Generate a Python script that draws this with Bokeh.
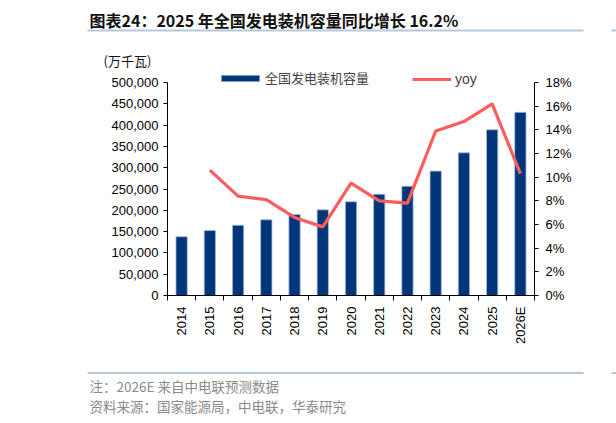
import math

from bokeh.plotting import figure
from bokeh.models import (Range1d, LinearAxis, FixedTicker, SingleIntervalTicker,
                          NumeralTickFormatter, PrintfTickFormatter, Legend, LegendItem)
from bokeh.layouts import column
from bokeh.core.properties import value
from bokeh.embed import file_html
from bokeh.resources import INLINE

# data
years = ["2014", "2015", "2016", "2017", "2018", "2019", "2020",
         "2021", "2022", "2023", "2024", "2025", "2026E"]
capacity = [138000, 152500, 165000, 177700, 190000, 201000, 220000,
            237700, 256400, 292000, 334900, 389000, 430000]   # 万千瓦
yoy = [10.6, 8.4, 8.1, 6.6, 5.8, 9.5, 8.0, 7.8, 13.9, 14.7, 16.2, 10.3]  # % from 2015

title_text = "图表24：2025 年全国发电装机容量同比增长 16.2%"
unit_text = "(万千瓦)"
bar_label = "全国发电装机容量"
line_label = "yoy"
note_text = "注：2026E 来自中电联预测数据"
source_text = "资料来源：国家能源局，中电联，华泰研究"

NAVY = "#02367a"
RED = "#ff5d5d"
RULE = "#b7c7db"
CJK = "Noto Sans CJK SC"
LAT = "Liberation Sans"
W = 616

CAP_MAX, PCT_MAX = 500000, 18
HEAD_H = 68
AXIS_PX = 213                  # px from 0 to the top tick
FRAME_PX = 295 - HEAD_H        # frame runs a bit higher to hold the legend


def blank(height):
    f = figure(width=W, height=height, x_range=Range1d(0, W), y_range=Range1d(height, 0),
               output_backend="svg", toolbar_location=None, min_border=0,
               x_axis_location=None, y_axis_location=None, frame_align=False)
    f.grid.visible = False
    f.outline_line_color = None
    return f


# header: title, rule, unit
head = blank(HEAD_H)
head.text(x=[89], y=[19], text=[title_text], text_font=value(CJK), text_font_size="16px",
          text_font_style="bold", text_baseline="middle", text_color="#111111")
head.segment(x0=[87, 611], y0=[30, 30], x1=[583, 630], y1=[30, 30], line_color=RULE, line_width=2)
head.text(x=[103], y=[59.5], text=[unit_text], text_font=value(CJK), text_font_size="13px",
          text_baseline="middle", text_color="#111111")

# main chart
xc = [i + 0.5 for i in range(len(years))]
p = figure(width=W, height=350 - HEAD_H, x_range=Range1d(0, len(years)),
           y_range=Range1d(0, CAP_MAX * FRAME_PX / AXIS_PX),
           output_backend="svg", toolbar_location=None, frame_align=False,
           min_border_left=167, min_border_right=82, min_border_top=0, min_border_bottom=55,
           x_axis_location=None, y_axis_location=None)
p.extra_y_ranges = {"pct": Range1d(0, PCT_MAX * FRAME_PX / AXIS_PX)}
p.grid.visible = False
p.outline_line_color = None

bars = p.vbar(x=xc, top=capacity, width=0.4, fill_color=NAVY,
              line_color="#a7bcd9", line_width=0.8)
ln = p.line(x=xc[1:], y=yoy, y_range_name="pct", line_color=RED, line_width=3.2)

xaxis = LinearAxis(ticker=FixedTicker(ticks=xc, minor_ticks=list(range(len(years) + 1))),
                   major_label_overrides={x: y for x, y in zip(xc, years)},
                   major_label_orientation=math.pi / 2)
yl = LinearAxis(ticker=SingleIntervalTicker(interval=50000, num_minor_ticks=0),
                formatter=NumeralTickFormatter(format="0,0"), bounds=(0, CAP_MAX))
yr = LinearAxis(y_range_name="pct", ticker=SingleIntervalTicker(interval=2, num_minor_ticks=0),
                formatter=PrintfTickFormatter(format="%d%%"), bounds=(0, PCT_MAX))
for ax in (xaxis, yl, yr):
    ax.axis_line_color = "black"
    ax.major_tick_line_color = "black"
    ax.minor_tick_line_color = "black"
    ax.major_tick_in = 0
    ax.major_tick_out = 4
    ax.minor_tick_in = 0
    ax.major_label_text_font = LAT
    ax.major_label_text_font_size = "13px"
    ax.major_label_text_color = "black"
xaxis.major_tick_out = 0
xaxis.minor_tick_out = 5
xaxis.major_label_standoff = 6
yl.major_label_standoff = 5
yr.major_label_standoff = 7
p.add_layout(xaxis, "below")
p.add_layout(yl, "left")
p.add_layout(yr, "right")

leg1 = Legend(items=[LegendItem(label=bar_label, renderers=[bars])], location=(49, 208),
              glyph_width=48, glyph_height=8, label_height=8, label_standoff=1,
              label_text_font=CJK, label_text_font_size="13px")
leg2 = Legend(items=[LegendItem(label=line_label, renderers=[ln])], location=(245, 208),
              glyph_width=39, glyph_height=8, label_height=8, label_standoff=4,
              label_text_font=LAT, label_text_font_size="14px")
for lg in (leg1, leg2):
    lg.padding = 0
    lg.margin = 0
    lg.spacing = 0
    lg.border_line_alpha = 0
    lg.background_fill_alpha = 0
    lg.label_text_baseline = "middle"
    p.add_layout(lg, "center")

# footer: rule + notes
foot = blank(73)
foot.segment(x0=[87, 611], y0=[22.5, 22.5], x1=[583, 630], y1=[22.5, 22.5],
             line_color=RULE, line_width=2)
foot.text(x=[89, 89], y=[35, 55], text=[note_text, source_text], text_font=value(CJK),
          text_font_size="13.5px", text_baseline="middle", text_color="#8a8a8a")

page = column(head, p, foot, spacing=0)
open("out.html", "w").write(file_html(page, INLINE))
